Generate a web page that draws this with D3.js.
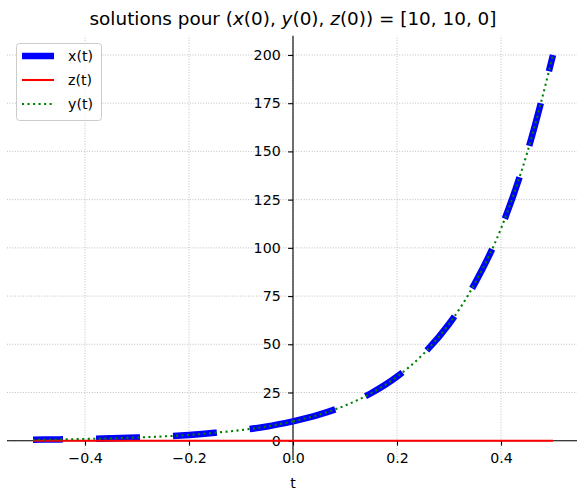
<!DOCTYPE html>
<html lang="fr">
<head>
<meta charset="UTF-8">
<title>solutions</title>
<script src="https://d3js.org/d3.v7.min.js"></script>
<style>
body{margin:0;background:#fff;}
svg{font-family:"DejaVu Sans",sans-serif;}
.grid line{stroke:#b0b0b0;stroke-width:0.8;stroke-dasharray:1,1.65;}
</style>
</head>
<body>
<svg id="chart" width="577" height="494"></svg>
<script>
// valeurs
var tVals=[-0.5,-0.45,-0.4,-0.35,-0.3,-0.25,-0.2,-0.15,-0.1,-0.05,0,0.05,0.1,0.15,0.2,0.25,0.3,0.35,0.4,0.45,0.5];
var xVals=[0.5,0.67,0.91,1.22,1.65,2.23,3.0,4.1,5.5,7.4,10,13.5,18.2,24.6,33.2,44.8,60.5,81.7,110,149,200];
var yVals=[0.5,0.67,0.91,1.22,1.65,2.23,3.0,4.1,5.5,7.4,10,13.5,18.2,24.6,33.2,44.8,60.5,81.7,110,149,200];
var zVals=[0,0,0,0,0,0,0,0,0,0,0,0,0,0,0,0,0,0,0,0,0];
var xTicks=[-0.4,-0.2,0,0.2,0.4];
var yTicks=[0,25,50,75,100,125,150,175,200];
var names=["x(t)","z(t)","y(t)"];

var svg=d3.select("#chart");
var x=d3.scaleLinear().domain([-0.55,0.55]).range([7,579]);
var y=d3.scaleLinear().domain([-10,210]).range([460,35.7]);

// grille
var grid=svg.append("g").attr("class","grid");
grid.selectAll(".vx").data(xTicks).enter().append("line")
  .attr("x1",d=>x(d)).attr("x2",d=>x(d)).attr("y1",y.range()[0]).attr("y2",y.range()[1]);
grid.selectAll(".hy").data(yTicks).enter().append("line")
  .attr("x1",x.range()[0]).attr("x2",x.range()[1]).attr("y1",d=>y(d)).attr("y2",d=>y(d));

// axes centrés sur zéro
var xAxis=d3.axisBottom(x).tickValues(xTicks).tickSize(4.9).tickPadding(7.6)
  .tickFormat(d=>d3.format(".1f")(d).replace("-","\u2212"));
var gx=svg.append("g").attr("transform","translate(0,"+y(0)+")").call(xAxis);
var yAxis=d3.axisLeft(y).tickValues(yTicks).tickSize(4.9).tickPadding(7.4);
var gy=svg.append("g").attr("transform","translate("+x(0)+",0)").call(yAxis);
[gx,gy].forEach(function(g){
  g.selectAll("text").attr("font-size","14.2px").attr("fill","#000").attr("font-family","DejaVu Sans");
  g.selectAll(".tick line").attr("stroke","#000").attr("stroke-width",1.1);
  g.select(".domain").attr("stroke","#000").attr("stroke-width",1.1);
});
gx.select(".domain").attr("d","M"+x.range()[0]+",0H"+x.range()[1]);
gy.select(".domain").attr("d","M0,"+y.range()[0]+"V"+y.range()[1]);

var line=d3.line().x(d=>x(d[0])).y(d=>y(d[1])).curve(d3.curveMonotoneX);
// chaque solution part de t=0 : une branche vers le passé, une vers le futur
var i0=tVals.indexOf(0);
function branches(vals){
  var pts=d3.zip(tVals,vals);
  return [pts.slice(0,i0+1).reverse(), pts.slice(i0)];
}

branches(xVals).forEach(function(b){
  svg.append("path").datum(b).attr("d",line).attr("fill","none")
    .attr("stroke","#0000ff").attr("stroke-width",6.5)
    .attr("stroke-dasharray","44,33");
});
svg.append("path").datum(d3.zip(tVals,zVals)).attr("d",line).attr("fill","none")
  .attr("stroke","#ff0000").attr("stroke-width",2.08);
branches(yVals).forEach(function(b){
  svg.append("path").datum(b).attr("d",line).attr("fill","none")
    .attr("stroke","#008000").attr("stroke-width",2.08)
    .attr("stroke-dasharray","2.08,3.44");
});

// titre
var title=svg.append("text").attr("x",293).attr("y",25).attr("text-anchor","middle")
  .attr("font-size","18.4px");
[["solutions pour (",0],["x",1],["(0), ",0],["y",1],["(0), ",0],["z",1],["(0)) = [10, 10, 0]",0]]
  .forEach(function(p){
    title.append("tspan").text(p[0]).attr("font-style",p[1]?"oblique":"normal");
  });

// axe t
svg.append("text").attr("x",293).attr("y",488).attr("text-anchor","middle")
  .attr("font-size","14.2px").text("t");

// légende
var lg=svg.append("g");
lg.append("rect").attr("x",16.5).attr("y",43.5).attr("width",85).attr("height",77)
  .attr("rx",3).attr("fill","#fff").attr("fill-opacity",0.8).attr("stroke","#cccccc");
var styles=[{c:"#0000ff",w:6.5,d:null},{c:"#ff0000",w:2.08,d:null},{c:"#008000",w:2.08,d:"2.08,3.44"}];
names.forEach(function(n,i){
  var yy=56+i*24;
  lg.append("line").attr("x1",22).attr("x2",54).attr("y1",yy).attr("y2",yy)
    .attr("stroke",styles[i].c).attr("stroke-width",styles[i].w)
    .attr("stroke-dasharray",styles[i].d);
  lg.append("text").attr("x",68).attr("y",yy+5).attr("font-size","14.2px").text(n);
});
</script>
</body>
</html>
